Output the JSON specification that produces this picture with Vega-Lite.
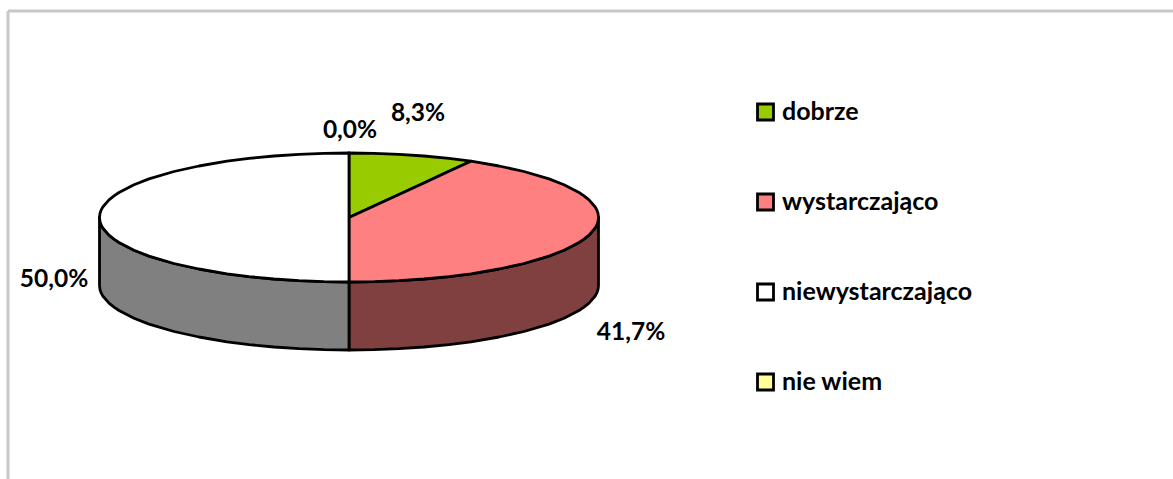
{
"$schema":"https://vega.github.io/schema/vega-lite/v6.json",
"width":1173,"height":479,"padding":0,
"autosize":"none",
"background":"white",
"config":{"view":{"stroke":null}},
"datasets":{
"frame":[{"x":8,"x2":1173,"y":11,"y2":11},{"x":8,"x2":8,"y":11,"y2":479}],
"sides":[
{"s":"wystarczajaco_side","x":349,"y":282,"y2":350},{"s":"wystarczajaco_side","x":374,"y":281.7,"y2":349.7},{"s":"wystarczajaco_side","x":399,"y":280.7,"y2":348.7},{"s":"wystarczajaco_side","x":424,"y":279,"y2":347},{"s":"wystarczajaco_side","x":449,"y":276.6,"y2":344.6},{"s":"wystarczajaco_side","x":471,"y":273.8,"y2":341.8},{"s":"wystarczajaco_side","x":499,"y":269,"y2":337},{"s":"wystarczajaco_side","x":524,"y":263.5,"y2":331.5},{"s":"wystarczajaco_side","x":549,"y":256.1,"y2":324.1},{"s":"wystarczajaco_side","x":564,"y":250.2,"y2":318.2},{"s":"wystarczajaco_side","x":579,"y":242.5,"y2":310.5},{"s":"wystarczajaco_side","x":584,"y":239.2,"y2":307.2},{"s":"wystarczajaco_side","x":589,"y":235.1,"y2":303.1},{"s":"wystarczajaco_side","x":595,"y":228.3,"y2":296.3},{"s":"wystarczajaco_side","x":597,"y":224.6,"y2":292.6},{"s":"wystarczajaco_side","x":598,"y":221.6,"y2":289.6},{"s":"wystarczajaco_side","x":598.5,"y":217.5,"y2":285.5},
{"s":"niewystarczajaco_side","x":99.5,"y":217.5,"y2":285.5},{"s":"niewystarczajaco_side","x":100,"y":221.6,"y2":289.6},{"s":"niewystarczajaco_side","x":101,"y":224.6,"y2":292.6},{"s":"niewystarczajaco_side","x":103,"y":228.3,"y2":296.3},{"s":"niewystarczajaco_side","x":109,"y":235.1,"y2":303.1},{"s":"niewystarczajaco_side","x":114,"y":239.2,"y2":307.2},{"s":"niewystarczajaco_side","x":119,"y":242.5,"y2":310.5},{"s":"niewystarczajaco_side","x":134,"y":250.2,"y2":318.2},{"s":"niewystarczajaco_side","x":149,"y":256.1,"y2":324.1},{"s":"niewystarczajaco_side","x":174,"y":263.5,"y2":331.5},{"s":"niewystarczajaco_side","x":199,"y":269,"y2":337},{"s":"niewystarczajaco_side","x":227,"y":273.8,"y2":341.8},{"s":"niewystarczajaco_side","x":249,"y":276.6,"y2":344.6},{"s":"niewystarczajaco_side","x":274,"y":279,"y2":347},{"s":"niewystarczajaco_side","x":299,"y":280.7,"y2":348.7},{"s":"niewystarczajaco_side","x":324,"y":281.7,"y2":349.7},{"s":"niewystarczajaco_side","x":349,"y":282,"y2":350}
],
"tops":[
{"s":"dobrze","x":349,"y":153,"y2":217.5},{"s":"dobrze","x":374,"y":153.3,"y2":206},{"s":"dobrze","x":399,"y":154.3,"y2":194.4},{"s":"dobrze","x":424,"y":156,"y2":182.9},{"s":"dobrze","x":449,"y":158.4,"y2":171.3},{"s":"dobrze","x":471,"y":161.2,"y2":161.2},
{"s":"wystarczająco","x":349,"y":217.5,"y2":282},{"s":"wystarczająco","x":374,"y":206,"y2":281.7},{"s":"wystarczająco","x":399,"y":194.4,"y2":280.7},{"s":"wystarczająco","x":424,"y":182.9,"y2":279},{"s":"wystarczająco","x":449,"y":171.3,"y2":276.6},{"s":"wystarczająco","x":471,"y":161.2,"y2":273.8},{"s":"wystarczająco","x":499,"y":166,"y2":269},{"s":"wystarczająco","x":524,"y":171.5,"y2":263.5},{"s":"wystarczająco","x":549,"y":178.9,"y2":256.1},{"s":"wystarczająco","x":564,"y":184.8,"y2":250.2},{"s":"wystarczająco","x":579,"y":192.5,"y2":242.5},{"s":"wystarczająco","x":584,"y":195.8,"y2":239.2},{"s":"wystarczająco","x":589,"y":199.9,"y2":235.1},{"s":"wystarczająco","x":595,"y":206.7,"y2":228.3},{"s":"wystarczająco","x":597,"y":210.4,"y2":224.6},{"s":"wystarczająco","x":598,"y":213.4,"y2":221.6},{"s":"wystarczająco","x":598.5,"y":217.5,"y2":217.5},
{"s":"niewystarczająco","x":99.5,"y":217.5,"y2":217.5},{"s":"niewystarczająco","x":100,"y":213.4,"y2":221.6},{"s":"niewystarczająco","x":101,"y":210.4,"y2":224.6},{"s":"niewystarczająco","x":103,"y":206.7,"y2":228.3},{"s":"niewystarczająco","x":109,"y":199.9,"y2":235.1},{"s":"niewystarczająco","x":114,"y":195.8,"y2":239.2},{"s":"niewystarczająco","x":119,"y":192.5,"y2":242.5},{"s":"niewystarczająco","x":134,"y":184.8,"y2":250.2},{"s":"niewystarczająco","x":149,"y":178.9,"y2":256.1},{"s":"niewystarczająco","x":174,"y":171.5,"y2":263.5},{"s":"niewystarczająco","x":199,"y":166,"y2":269},{"s":"niewystarczająco","x":227,"y":161.2,"y2":273.8},{"s":"niewystarczająco","x":249,"y":158.4,"y2":276.6},{"s":"niewystarczająco","x":274,"y":156,"y2":279},{"s":"niewystarczająco","x":299,"y":154.3,"y2":280.7},{"s":"niewystarczająco","x":324,"y":153.3,"y2":281.7},{"s":"niewystarczająco","x":349,"y":153,"y2":282},
{"s":"nie wiem","x":349,"y":153,"y2":153}
],
"labels":[
{"x":350,"y":131,"t":"0,0%"},{"x":418,"y":114,"t":"8,3%"},{"x":631,"y":333,"t":"41,7%"},{"x":54,"y":280,"t":"50,0%"}
]},
"encoding":{
"x":{"field":"x","type":"quantitative","scale":{"domain":[0,1173],"nice":false,"zero":false},"axis":null},
"y":{"field":"y","type":"quantitative","scale":{"domain":[0,479],"reverse":true,"nice":false,"zero":false},"axis":null}
},
"layer":[
{"data":{"name":"frame"},"mark":{"type":"rule","stroke":"#c8c8c8","strokeWidth":3},"encoding":{"x2":{"field":"x2"},"y2":{"field":"y2"}}},
{"data":{"name":"sides"},"mark":{"type":"area","stroke":"black","strokeWidth":2.8,"strokeJoin":"round"},
"encoding":{"y":{"field":"y","type":"quantitative","stack":null,"scale":{"domain":[0,479],"reverse":true,"nice":false,"zero":false},"axis":null},"y2":{"field":"y2"},"fill":{"field":"s","type":"nominal","scale":{"domain":["wystarczajaco_side","niewystarczajaco_side"],"range":["#804040","#808080"]},"legend":null}}},
{"data":{"name":"tops"},"mark":{"type":"area","stroke":"black","strokeWidth":2.8,"strokeJoin":"round"},
"encoding":{"y":{"field":"y","type":"quantitative","stack":null,"scale":{"domain":[0,479],"reverse":true,"nice":false,"zero":false},"axis":null},"y2":{"field":"y2"},"fill":{"field":"s","type":"nominal","scale":{"domain":["dobrze","wystarczająco","niewystarczająco","nie wiem"],"range":["#99CC00","#FF8080","#FFFFFF","#FFFF99"]},
"legend":{"title":null,"orient":"none","legendX":753,"legendY":97,"symbolType":"square","symbolSize":256,"symbolStrokeColor":"black","symbolStrokeWidth":2.8,"symbolOpacity":1,"labelFont":"Lato","labelFontWeight":"bold","labelFontSize":25,"labelColor":"black","labelOffset":4,"rowPadding":60,"labelLimit":400,"clipHeight":30}}}},
{"data":{"name":"labels"},"mark":{"type":"text","font":"Lato","fontWeight":"bold","fontSize":24.5,"color":"black","align":"center","baseline":"middle"},"encoding":{"text":{"field":"t","type":"nominal"}}}
],
"resolve":{"scale":{"fill":"independent"}}
}
